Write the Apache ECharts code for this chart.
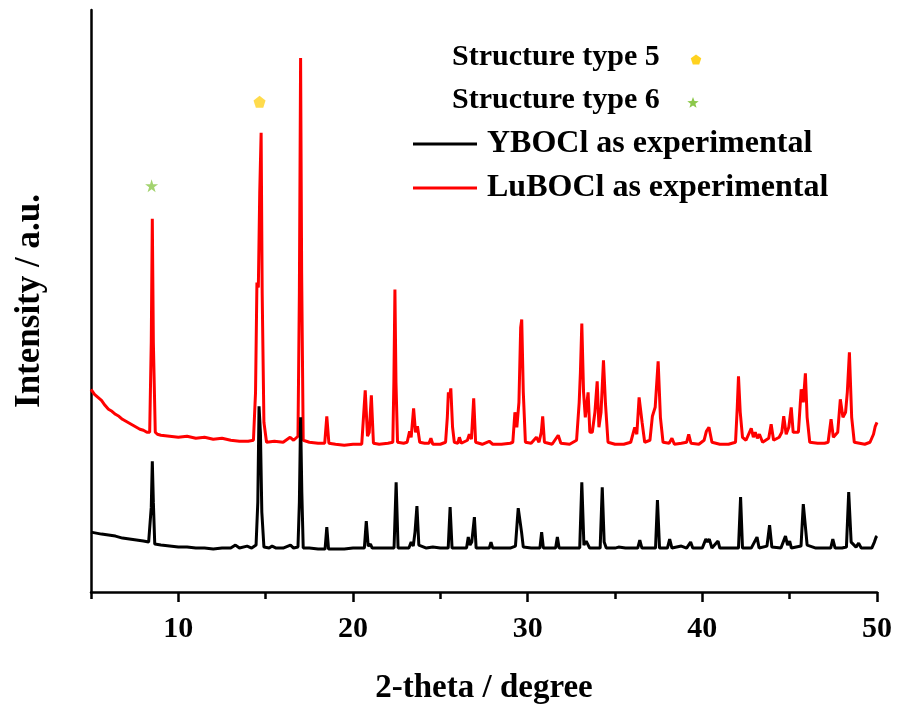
<!DOCTYPE html>
<html>
<head>
<meta charset="utf-8">
<title>XRD patterns of YBOCl and LuBOCl</title>
<script src="https://cdn.jsdelivr.net/npm/echarts@6/dist/echarts.min.js"></script>
<style>
  html, body { margin: 0; padding: 0; background: #fff; }
  #chart { width: 899px; height: 706px; }
</style>
</head>
<body>
<div id="chart"></div>
<script>
// Powder XRD patterns, [2-theta (deg), intensity (a.u.)]
const yboclPattern = [
  [5.0,60],[5.3,59],[5.6,58],[6.0,57],[6.4,56],[6.8,54],[7.2,53],[7.6,52],[8.0,51],[8.3,50],
  [8.38,50],[8.45,85],[8.51,131],[8.57,90],[8.65,48],[9.0,47],[9.5,46],[10.0,45],[10.5,45],
  [11.0,44],[11.5,44],[12.0,43],[12.5,44],[13.0,44],[13.27,47],[13.5,44],[13.94,46],[14.2,44],
  [14.45,47],[14.55,90],[14.62,186],[14.7,160],[14.78,80],[14.9,45],[15.2,44],[15.37,46],[15.6,44],
  [16.0,44],[16.42,47],[16.6,44],[16.85,45],[16.93,90],[17.0,175],[17.07,100],[17.15,44],[17.5,44],
  [18.0,43],[18.4,43],[18.5,65],[18.6,43],[19.0,43],[19.5,43],[20.0,44],[20.65,44],[20.76,71],
  [20.87,46],[21.0,48],[21.1,44],[21.6,44],[22.2,44],[22.35,44],[22.47,110],[22.58,44],[23.0,44],
  [23.2,44],[23.33,50],[23.45,46],[23.55,60],[23.66,86],[23.77,47],[24.2,44],[24.57,45],[25.0,44],
  [25.45,44],[25.56,85],[25.67,44],[26.0,44],[26.5,44],[26.6,55],[26.7,47],[26.8,50],[26.95,75],
  [27.05,44],[27.5,44],[27.8,44],[27.9,50],[28.0,44],[28.5,44],[29.0,44],[29.3,46],[29.4,70],
  [29.46,84],[29.56,82],[29.65,60],[29.75,45],[30.2,44],[30.7,44],[30.8,60],[30.9,44],[31.6,44],
  [31.7,55],[31.8,44],[32.5,44],[32.98,44],[33.1,110],[33.22,47],[33.35,51],[33.45,51],[33.55,44],
  [34.15,44],[34.27,105],[34.38,50],[34.5,44],[35.0,44],[35.2,45],[35.6,44],[36.3,44],[36.42,52],
  [36.54,44],[37.0,44],[37.32,44],[37.43,92],[37.55,44],[38.0,44],[38.13,53],[38.26,44],[38.8,46],
  [39.1,44],[39.33,50],[39.45,44],[40.0,44],[40.2,53],[40.3,50],[40.4,53],[40.55,44],[40.9,51],
  [41.0,44],[41.6,44],[42.07,44],[42.19,95],[42.3,44],[42.8,44],[43.13,55],[43.25,44],[43.7,46],
  [43.85,67],[43.98,45],[44.5,44],[44.76,56],[44.88,47],[45.0,51],[45.1,44],[45.65,46],[45.78,88],
  [45.88,90],[46.0,47],[46.5,44],[47.0,44],[47.35,44],[47.47,53],[47.6,44],[48.0,44],[48.25,45],
  [48.38,100],[48.52,50],[48.8,45],[48.95,49],[49.1,44],[49.7,44],[49.85,50],[49.95,55],[50.0,56]
];

const luboclPattern = [
  [5.0,203],[5.2,198],[5.4,195],[5.6,192],[5.8,187],[6.0,183],[6.2,181],[6.4,178],[6.6,176],
  [6.8,173],[7.0,171],[7.2,169],[7.4,167],[7.6,165],[7.8,163],[8.0,162],[8.2,160],[8.36,160],
  [8.45,250],[8.51,374],[8.57,250],[8.68,160],[8.8,158],[9.0,157],[9.5,156],[10.0,155],[10.5,156],
  [11.0,154],[11.5,155],[12.0,153],[12.5,154],[13.0,152],[13.5,151],[14.0,151],[14.3,152],
  [14.42,200],[14.5,310],[14.58,305],[14.66,400],[14.74,460],[14.8,300],[14.9,170],[15.05,150],
  [15.5,151],[16.0,150],[16.4,155],[16.6,152],[16.85,156],[16.93,300],[17.0,535],[17.06,320],
  [17.15,152],[17.5,150],[18.0,149],[18.38,149],[18.5,176],[18.62,149],[19.0,148],[19.5,147],
  [20.0,148],[20.5,148],[20.58,149],[20.7,202],[20.83,156],[20.93,160],[21.05,197],[21.17,149],
  [21.5,148],[22.0,149],[22.28,150],[22.34,210],[22.40,303],[22.46,210],[22.55,150],[22.9,149],
  [23.1,150],[23.24,161],[23.33,155],[23.47,184],[23.58,160],[23.69,166],[23.82,150],[24.1,149],
  [24.35,149],[24.46,154],[24.57,148],[25.0,148],[25.3,150],[25.4,175],[25.46,200],[25.53,195],
  [25.6,204],[25.7,165],[25.8,150],[26.0,149],[26.09,155],[26.2,149],[26.55,152],[26.66,158],
  [26.78,153],[26.91,194],[27.02,150],[27.4,148],[27.8,151],[28.0,148],[28.5,148],[29.0,149],
  [29.15,150],[29.27,180],[29.38,165],[29.5,190],[29.6,265],[29.66,273],[29.75,200],[29.87,150],
  [30.2,149],[30.5,155],[30.65,150],[30.78,160],[30.86,176],[30.96,150],[31.4,148],[31.75,157],
  [31.9,149],[32.4,148],[32.8,152],[32.95,190],[33.02,220],[33.1,269],[33.2,200],[33.3,175],
  [33.46,200],[33.56,160],[33.7,160],[33.85,180],[33.98,211],[34.08,165],[34.2,180],[34.34,232],
  [34.45,190],[34.6,150],[35.0,148],[35.5,148],[35.9,150],[36.13,165],[36.25,158],[36.38,195],
  [36.55,170],[36.7,150],[37.0,152],[37.14,176],[37.3,185],[37.47,231],[37.6,175],[37.75,150],
  [38.1,149],[38.26,154],[38.4,148],[38.8,149],[39.1,150],[39.22,158],[39.35,149],[39.8,148],
  [40.1,152],[40.23,161],[40.38,165],[40.55,150],[41.0,148],[41.5,148],[41.9,150],[42.0,185],
  [42.07,216],[42.17,180],[42.3,155],[42.5,152],[42.8,164],[42.92,155],[43.03,160],[43.15,154],
  [43.27,158],[43.45,150],[43.8,154],[43.94,168],[44.08,152],[44.4,155],[44.55,160],[44.66,176],
  [44.8,158],[44.95,165],[45.09,185],[45.2,160],[45.5,160],[45.66,203],[45.78,190],[45.9,219],
  [46.0,175],[46.15,150],[46.6,149],[47.0,149],[47.2,150],[47.37,173],[47.5,155],[47.75,160],
  [47.9,193],[48.05,175],[48.2,180],[48.3,200],[48.42,240],[48.55,175],[48.7,150],[49.0,149],
  [49.3,148],[49.6,150],[49.8,158],[49.9,166],[50.0,170]
];

// Phase markers placed above the assigned reflections
const type5Markers = [[14.65, 491]];
const type6Markers = [[8.47, 407]];

// Axis ticks and labels
const majorTicks = [10, 20, 30, 40, 50];
const minorTicks = [5, 15, 25, 35, 45];

const seriesNames = ['YBOCl as experimental', 'LuBOCl as experimental'];
const markerNames = ['Structure type 5', 'Structure type 6'];

const FONT = '"Liberation Serif", "Times New Roman", serif';
const TYPE5_COLOR = '#ffd21f';
const TYPE6_COLOR = '#8cc84b';

const PENTAGON = 'path://M0,-1L0.951,-0.309L0.588,0.809L-0.588,0.809L-0.951,-0.309Z';
const STAR = 'path://M0,-1L0.2245,-0.309L0.951,-0.309L0.3633,0.118L0.5878,0.809L0,0.382L-0.5878,0.809L-0.3633,0.118L-0.951,-0.309L-0.2245,-0.309Z';

// regular polygon / star outline for the key symbols
function polyPoints(cx, cy, r, n, inner) {
  const pts = [];
  const steps = inner ? n * 2 : n;
  for (let i = 0; i < steps; i++) {
    const a = -Math.PI / 2 + i * Math.PI * 2 / steps;
    const rr = inner && i % 2 === 1 ? r * inner : r;
    pts.push([cx + rr * Math.cos(a), cy + rr * Math.sin(a)]);
  }
  return pts;
}

const chart = echarts.init(document.getElementById('chart'), null, { renderer: 'canvas' });

const axisText = { fontFamily: FONT, fontWeight: 'bold', color: '#000' };

chart.setOption({
  animation: false,
  backgroundColor: '#fff',
  grid: { left: 91, right: 22, top: 10, bottom: 114, containLabel: false, outerBoundsMode: 'none' },
  legend: {
    data: seriesNames,
    orient: 'vertical',
    left: 413,
    top: 128,
    padding: 0,
    itemWidth: 64,
    itemHeight: 3,
    itemGap: 12,
    icon: 'rect',
    textStyle: { fontFamily: FONT, fontWeight: 'bold', fontSize: 32, color: '#000', padding: [0, 0, 0, 5] }
  },
  graphic: [
    { type: 'text', left: 452, top: 42, style: { text: markerNames[0], font: 'bold 30px ' + FONT, fill: '#000' } },
    { type: 'text', left: 452, top: 85, style: { text: markerNames[1], font: 'bold 30px ' + FONT, fill: '#000' } },
    { type: 'polygon', shape: { points: polyPoints(696, 60, 5.5, 5) }, style: { fill: TYPE5_COLOR } },
    { type: 'polygon', shape: { points: polyPoints(693, 103, 6, 5, 0.42) }, style: { fill: TYPE6_COLOR } }
  ],
  xAxis: [
    {
      type: 'value', min: 5, max: 50, interval: 5,
      name: '2-theta / degree', nameLocation: 'middle', nameGap: 80,
      nameTextStyle: Object.assign({ fontSize: 33 }, axisText),
      axisLine: { show: true, onZero: false, lineStyle: { color: '#000', width: 2.5 } },
      axisTick: { show: true, inside: false, length: 10, customValues: majorTicks, lineStyle: { color: '#000', width: 2.5 } },
      axisLabel: Object.assign({ fontSize: 30, margin: 22, customValues: majorTicks }, axisText),
      splitLine: { show: false }
    },
    {
      type: 'value', min: 5, max: 50, interval: 5, position: 'bottom',
      axisLine: { show: false },
      axisTick: { show: true, inside: false, length: 7, customValues: minorTicks, lineStyle: { color: '#000', width: 2.5 } },
      axisLabel: { show: false },
      splitLine: { show: false }
    }
  ],
  yAxis: {
    type: 'value', min: 0, max: 583,
    name: 'Intensity / a.u.', nameLocation: 'middle', nameGap: 44,
    nameTextStyle: Object.assign({ fontSize: 35 }, axisText),
    axisLine: { show: true, onZero: false, lineStyle: { color: '#000', width: 2.5 } },
    axisTick: { show: false },
    axisLabel: { show: false },
    splitLine: { show: false }
  },
  series: [
    {
      name: seriesNames[1], type: 'line', data: luboclPattern, xAxisIndex: 0,
      symbol: 'none', showSymbol: false, smooth: false,
      lineStyle: { color: '#ff0000', width: 3 }, itemStyle: { color: '#ff0000' }
    },
    {
      name: seriesNames[0], type: 'line', data: yboclPattern, xAxisIndex: 0,
      symbol: 'none', showSymbol: false, smooth: false,
      lineStyle: { color: '#000000', width: 3 }, itemStyle: { color: '#000000' }
    },
    {
      name: markerNames[0], type: 'scatter', data: type5Markers, xAxisIndex: 0,
      symbol: PENTAGON, symbolSize: 12, itemStyle: { color: TYPE5_COLOR }
    },
    {
      name: markerNames[1], type: 'scatter', data: type6Markers, xAxisIndex: 0,
      symbol: STAR, symbolSize: 13, itemStyle: { color: TYPE6_COLOR }
    }
  ]
});
</script>
</body>
</html>
